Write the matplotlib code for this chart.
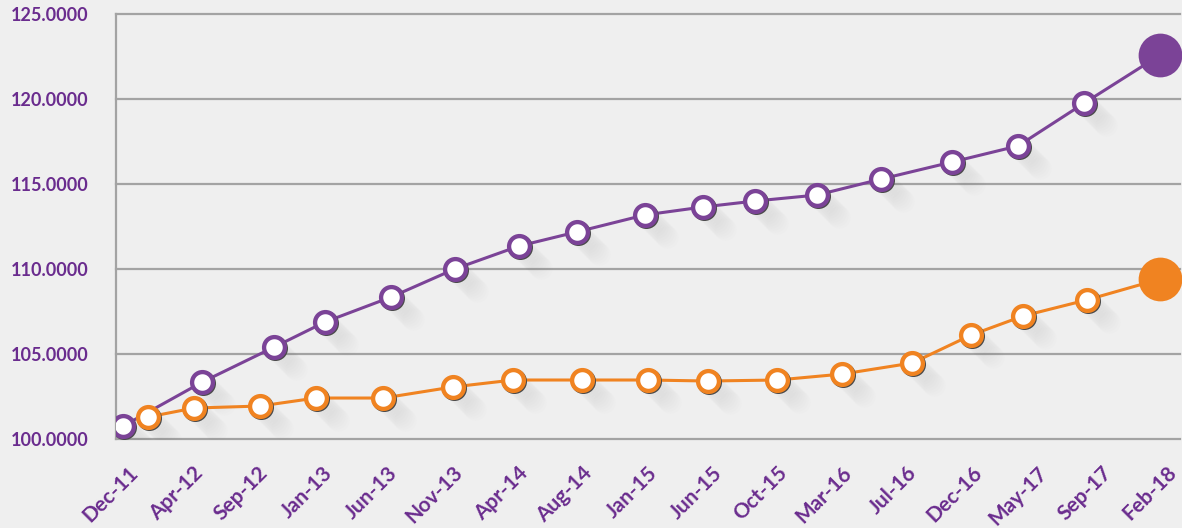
import matplotlib
matplotlib.use("Agg")
import matplotlib.pyplot as plt
import matplotlib.transforms as mtransforms

# Etiquetas do eixo X (espaçadas igualmente)
x_labels = ['Dec-11', 'Apr-12', 'Sep-12', 'Jan-13', 'Jun-13', 'Nov-13', 'Apr-14',
            'Aug-14', 'Jan-15', 'Jun-15', 'Oct-15', 'Mar-16', 'Jul-16', 'Dec-16',
            'May-17', 'Sep-17', 'Feb-18']
y_ticks = [100, 105, 110, 115, 120, 125]

# Série roxa (posição em unidades de rótulo, valor)
purple_x = [-0.23, 0.99, 2.10, 2.88, 3.90, 4.88, 5.87, 6.76, 7.81, 8.71, 9.51,
            10.46, 11.45, 12.54, 13.56, 14.58, 15.75]
purple_y = [100.76, 103.35, 105.41, 106.88, 108.35, 110.00, 111.35, 112.18, 113.18,
            113.65, 114.00, 114.35, 115.29, 116.29, 117.24, 119.76, 122.59]

# Série laranja
orange_x = [0.15, 0.86, 1.88, 2.74, 3.78, 4.85, 5.78, 6.84, 7.86, 8.78, 9.85,
            10.85, 11.93, 12.84, 13.64, 14.62, 15.75]
orange_y = [101.29, 101.82, 101.94, 102.41, 102.41, 103.06, 103.47, 103.47, 103.47,
            103.41, 103.47, 103.82, 104.47, 106.12, 107.24, 108.18, 109.41]

purple = '#7b4397'
orange = '#f08321'
text_purple = '#6a2c8e'
grid_gray = '#a3a3a3'
bg = '#efefef'

plt.rcParams['font.family'] = ['Lato', 'DejaVu Sans']

fig = plt.figure(figsize=(11.82, 5.28), dpi=100, facecolor=bg)
ax = fig.add_axes([116 / 1182, 89 / 528, 1064 / 1182, 425 / 528])
ax.set_facecolor(bg)


def desenhar_serie(xs, ys, cor):
    # linha
    ax.plot(xs, ys, color=cor, lw=2.2, zorder=3, solid_capstyle='round')
    # sombra longa diagonal, suave
    for k in range(2, 24, 2):
        off = mtransforms.offset_copy(ax.transData, fig=fig, x=k, y=-k, units='dots')
        ax.plot(xs[:-1], ys[:-1], 'o', ms=16, color='#9a9a9a', alpha=0.025,
                mec='none', transform=off, zorder=2)
    # borda escura fina
    off = mtransforms.offset_copy(ax.transData, fig=fig, x=1.0, y=-1.0, units='dots')
    ax.plot(xs[:-1], ys[:-1], 'o', ms=18, color='#4a4a4a', mec='none',
            transform=off, zorder=4)
    # marcadores
    ax.plot(xs[:-1], ys[:-1], 'o', ms=15, mfc='white', mec=cor, mew=3.1, zorder=5)
    # ponto final grande
    ax.plot(xs[-1], ys[-1], 'o', ms=31.5, color=cor, mec='none', zorder=6,
            clip_on=False)


desenhar_serie(purple_x, purple_y, purple)
desenhar_serie(orange_x, orange_y, orange)

ax.set_xlim(-0.339, 16.055)
ax.set_ylim(100, 125)

ax.set_yticks(y_ticks)
ax.set_yticklabels([f'{v:.4f}' for v in y_ticks])
ax.set_xticks(range(len(x_labels)))
ax.set_xticklabels(x_labels, rotation=45, ha='right', va='top', rotation_mode='anchor')

ax.tick_params(axis='y', length=0, pad=20, labelsize=13, labelcolor=text_purple)
ax.tick_params(axis='x', length=0, pad=17, labelsize=15, labelcolor=text_purple)
shift = mtransforms.ScaledTranslation(-10 / 100, 0, fig.dpi_scale_trans)
for lab in ax.get_xticklabels():
    lab.set_fontweight('bold')
    lab.set_transform(lab.get_transform() + shift)
for lab in ax.get_yticklabels():
    lab.set_fontweight('bold')

ax.grid(axis='y', color=grid_gray, lw=1.6, zorder=1)
ax.grid(axis='x', visible=False)
ax.set_axisbelow(True)
for line in ax.get_ygridlines():
    line.set_clip_on(False)

for s in ['top', 'right', 'bottom']:
    ax.spines[s].set_visible(False)
ax.spines['left'].set_color(grid_gray)
ax.spines['left'].set_linewidth(1.6)

fig.savefig('out.png', dpi=100, facecolor=bg)
